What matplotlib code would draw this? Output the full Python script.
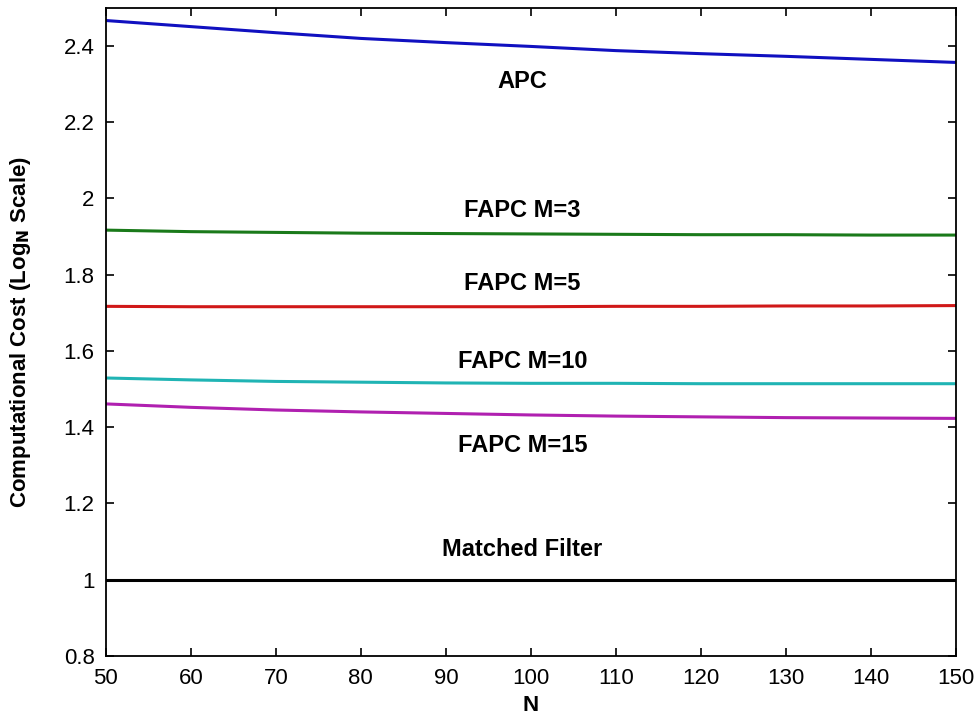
import matplotlib.pyplot as plt

# N values and log_N cost for each method
N = [50, 60, 70, 80, 90, 100, 110, 120, 130, 140, 150]
apc = [2.467, 2.451, 2.435, 2.420, 2.409, 2.399, 2.388, 2.380, 2.373, 2.365, 2.357]
fapc_m3 = [1.917, 1.913, 1.911, 1.909, 1.908, 1.907, 1.906, 1.905, 1.905, 1.904, 1.904]
fapc_m5 = [1.717, 1.716, 1.716, 1.716, 1.716, 1.716, 1.717, 1.717, 1.718, 1.718, 1.719]
fapc_m10 = [1.529, 1.524, 1.520, 1.518, 1.516, 1.515, 1.515, 1.514, 1.514, 1.514, 1.514]
fapc_m15 = [1.461, 1.452, 1.445, 1.440, 1.436, 1.432, 1.429, 1.427, 1.425, 1.424, 1.423]
matched = [1.0] * len(N)

series = [apc, fapc_m3, fapc_m5, fapc_m10, fapc_m15, matched]
colors = ['#1010c0', '#1a7a1a', '#d01818', '#20b4b4', '#b020b0', 'black']
labels = ['APC', 'FAPC M=3', 'FAPC M=5', 'FAPC M=10', 'FAPC M=15', 'Matched Filter']
label_y = [2.307, 1.969, 1.778, 1.571, 1.353, 1.08]

plt.rcParams['font.family'] = ['Liberation Sans', 'DejaVu Sans']

fig = plt.figure(figsize=(9.79, 7.21), dpi=100)
ax = fig.add_axes([0.108, 0.0904, 0.8685, 0.8986])

for ys, c in zip(series, colors):
    ax.plot(N, ys, color=c, lw=2.2)

for lab, y in zip(labels, label_y):
    ax.text(99, y, lab, ha='center', va='center', fontsize=17, fontweight='bold')

ax.set_xlim(50, 150)
ax.set_ylim(0.8, 2.5)
ax.set_xticks(range(50, 151, 10))
ax.set_yticks([0.8, 1.0, 1.2, 1.4, 1.6, 1.8, 2.0, 2.2, 2.4])
ax.set_yticklabels(['0.8', '1', '1.2', '1.4', '1.6', '1.8', '2', '2.2', '2.4'])
ax.tick_params(direction='in', length=6, width=1.2, top=True, right=True, labelsize=16)
ax.tick_params(axis='x', pad=9)
ax.tick_params(axis='y', pad=8)
for sp in ax.spines.values():
    sp.set_linewidth(1.3)

ax.set_xlabel('N', fontsize=16, fontweight='bold', labelpad=4)
ax.set_ylabel('Computational Cost (Log$_\\mathbf{N}$ Scale)', fontsize=16, fontweight='bold', labelpad=22)

fig.savefig('out.png', dpi=100)
